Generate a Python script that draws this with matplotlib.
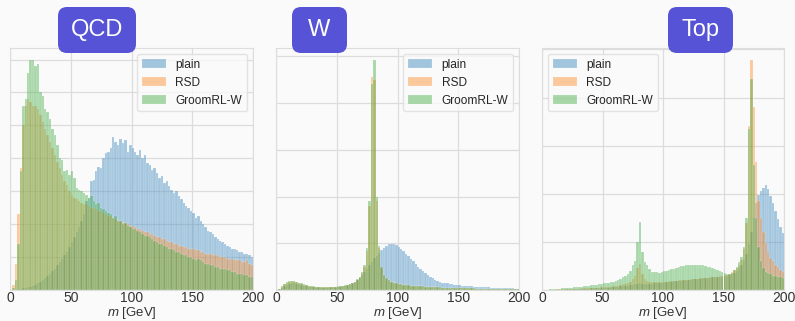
import numpy as np
import matplotlib
matplotlib.use("Agg")
import matplotlib.pyplot as plt
import seaborn as sns
from matplotlib.patches import FancyBboxPatch

# -----------------------------------------------------------------------------
# data: jet mass histograms, 2 GeV bins from 0 to 200 GeV (arbitrary units)
# -----------------------------------------------------------------------------
mass_edges = np.arange(0, 202, 2)
mass_centers = mass_edges[:-1] + 1

qcd_plain = [0, 0, 0, 0.2, 0.3, 0.5, 0.6, 0.8, 1, 1.3,
             1.6, 2, 2.5, 3, 3.6, 4.3, 5, 5.8, 6.5, 7.5,
             8.5, 9.5, 10.5, 11.5, 13, 14.5, 16, 17.5, 19, 21,
             23, 27, 28, 33, 33.5, 36, 37.5, 37, 40, 41.5,
             42, 43, 46.5, 45, 44, 46, 44.5, 45.5, 42, 44,
             43, 42, 41, 42.5, 40, 41, 38.5, 38, 36.5, 37,
             35.5, 34, 34.5, 32.5, 33, 31.5, 30.5, 29.5, 30, 28.5,
             27.5, 26.5, 25.5, 25, 24, 23.5, 22, 22.5, 21, 20,
             19, 18, 17.5, 17, 16, 15.5, 15, 14.5, 14, 13.5,
             13, 12.5, 12.5, 12, 11.5, 11.5, 11, 11, 10.5, 10]
qcd_rsd = [0, 1.5, 8, 23, 37, 50, 56, 58, 57, 56,
           56, 55, 53, 51, 49, 47, 45, 43, 41, 39,
           37, 35, 33, 32, 30, 29, 28, 27.5, 27, 26.5,
           26, 26, 25.5, 25, 25, 24.5, 24, 24, 23.5, 23,
           22.5, 22.5, 22, 21.5, 21, 21, 20.5, 20.5, 20, 19.5,
           19.5, 19, 18.5, 18.5, 18, 17.5, 17.5, 17, 17, 16.5,
           16, 16, 15.5, 15.5, 15, 14.5, 14.5, 14, 14, 13.5,
           13.5, 13, 13, 12.5, 12.5, 12.5, 12, 12, 11.5, 11.5,
           11, 11, 11, 10.5, 10.5, 10.5, 10, 10, 10, 9.5,
           9.5, 9.5, 9, 9, 9, 8.5, 8.5, 9, 8, 7.5]
qcd_groom = [0, 0.5, 3, 14, 36, 56, 58, 66, 70, 70,
             68, 68.5, 60, 59, 55, 54, 52, 49, 47, 44,
             40, 39.5, 36, 36.5, 35, 36, 34, 31, 30.5, 30,
             29.5, 29, 28, 28.5, 27, 26, 26.5, 25, 24.5, 24,
             23.5, 23, 22, 22.5, 21, 21, 20, 20.5, 19.5, 19,
             18.5, 18.5, 18, 17.5, 17, 16.5, 16.5, 16, 15.5, 15,
             14.5, 14, 14, 13.5, 13, 12.5, 12.5, 12, 11.5, 11.5,
             11, 10.5, 10.5, 10, 10, 9.5, 9, 9.5, 9, 8.5,
             8, 8, 7.5, 7.5, 7, 7, 6.5, 6.5, 6.5, 6,
             6, 5.5, 5.5, 5, 5, 5, 4.5, 4.5, 4, 4]

w_plain = [0, 0.3, 1, 1.8, 2.3, 2.6, 2.8, 2.8, 2.6, 2.4,
           2.1, 1.8, 1.6, 1.4, 1.3, 1.2, 1.1, 1.1, 1, 1,
           1, 1, 1.1, 1.1, 1.2, 1.3, 1.4, 1.6, 1.8, 2.1,
           2.5, 3, 3.6, 4.3, 5.2, 6.3, 7.5, 9, 10.5, 12,
           13.5, 14.5, 15.7, 17, 18, 19, 19.6, 19.8, 19.5, 19.2,
           18.5, 17.6, 16.6, 15.5, 14.5, 13.4, 12.2, 11, 10, 9,
           8, 7.2, 6.4, 5.6, 5, 4.4, 3.9, 3.5, 3.2, 3,
           2.8, 2.6, 2.5, 2.3, 2.2, 2, 1.9, 1.8, 1.7, 1.6,
           1.5, 1.4, 1.4, 1.3, 1.2, 1.2, 1.1, 1.1, 1, 1,
           1, 0.9, 0.9, 0.8, 0.8, 0.8, 0.7, 0.7, 0.6, 0.6]
w_rsd = [0, 0.4, 1.3, 2.4, 3.1, 3.5, 3.7, 3.7, 3.4, 3.1,
         2.7, 2.3, 2, 1.7, 1.5, 1.4, 1.3, 1.3, 1.2, 1.2,
         1.2, 1.2, 1.2, 1.3, 1.3, 1.4, 1.5, 1.7, 1.9, 2.1,
         2.4, 2.8, 3.4, 4.3, 5.4, 7.4, 10, 16.5, 36, 91,
         90, 38, 18, 9.5, 6.3, 4.9, 4.1, 3.5, 3.1, 2.8,
         2.6, 2.4, 2.2, 2.1, 2, 1.9, 1.8, 1.7, 1.6, 1.5,
         1.4, 1.4, 1.3, 1.2, 1.2, 1.1, 1.1, 1, 1, 1,
         0.9, 0.9, 0.9, 0.8, 0.8, 0.8, 0.8, 0.7, 0.7, 0.7,
         0.7, 0.6, 0.6, 0.6, 0.6, 0.6, 0.5, 0.5, 0.5, 0.5,
         0.5, 0.5, 0.4, 0.4, 0.4, 0.4, 0.4, 0.4, 0.4, 0.4]
w_groom = [0, 0.5, 1.5, 2.6, 3.3, 3.7, 3.9, 3.8, 3.5, 3.2,
           2.8, 2.4, 2, 1.8, 1.6, 1.5, 1.4, 1.3, 1.3, 1.2,
           1.2, 1.2, 1.3, 1.3, 1.4, 1.5, 1.6, 1.8, 2, 2.2,
           2.5, 2.9, 3.6, 4.6, 5.7, 7.9, 10.7, 18, 38, 88,
           98.6, 40, 19, 10, 6.5, 5, 4.2, 3.6, 3.2, 2.9,
           2.7, 2.5, 2.3, 2.1, 2, 1.9, 1.8, 1.7, 1.6, 1.5,
           1.5, 1.4, 1.3, 1.3, 1.2, 1.2, 1.1, 1.1, 1, 1,
           1, 0.9, 0.9, 0.9, 0.8, 0.8, 0.8, 0.8, 0.7, 0.7,
           0.7, 0.7, 0.6, 0.6, 0.6, 0.6, 0.6, 0.5, 0.5, 0.5,
           0.5, 0.5, 0.5, 0.4, 0.4, 0.4, 0.4, 0.4, 0.4, 0.4]

top_plain = [0, 0, 0, 0.1, 0.1, 0.1, 0.2, 0.2, 0.2, 0.3,
             0.3, 0.3, 0.4, 0.4, 0.4, 0.5, 0.5, 0.5, 0.6, 0.6,
             0.7, 0.7, 0.8, 0.8, 0.9, 0.9, 1, 1, 1.1, 1.2,
             1.3, 1.4, 1.5, 1.6, 1.7, 1.8, 2, 2.1, 2.3, 2.5,
             2.8, 2.6, 2.5, 2.5, 2.6, 2.7, 2.8, 2.9, 3, 3.1,
             3.2, 3.3, 3.4, 3.5, 3.6, 3.7, 3.8, 3.9, 4, 4.1,
             4.2, 4.3, 4.4, 4.5, 4.6, 4.7, 4.8, 4.9, 5, 5.1,
             5.2, 5.3, 5.4, 5.5, 5.6, 5.8, 6, 6.3, 6.7, 7.2,
             8, 9, 10.5, 12.5, 15, 19, 24, 30, 36, 39.5,
             41, 42.5, 43.7, 42, 39, 36, 33, 29.5, 26, 23.5]
top_rsd = [0, 0, 0.1, 0.1, 0.2, 0.2, 0.3, 0.3, 0.3, 0.4,
           0.4, 0.5, 0.5, 0.5, 0.6, 0.6, 0.7, 0.7, 0.8, 0.8,
           0.9, 0.9, 1, 1, 1.1, 1.2, 1.2, 1.3, 1.4, 1.5,
           1.6, 1.8, 2, 2.3, 2.6, 3, 3.5, 4.5, 6, 9,
           11, 6.5, 4.5, 3.8, 3.5, 3.3, 3.2, 3.2, 3.3, 3.3,
           3.4, 3.5, 3.6, 3.7, 3.8, 3.9, 4, 4, 4.1, 4.2,
           4.3, 4.4, 4.5, 4.6, 4.7, 4.8, 4.9, 5, 5.1, 5.2,
           5.3, 5.4, 5.5, 5.7, 5.9, 6.1, 6.4, 6.8, 7.4, 8.2,
           9.2, 10.5, 12.5, 17, 28, 68, 95.8, 76, 53, 37,
           30, 24, 19.5, 16, 13.5, 12, 10.5, 9.5, 8.5, 7.5]
top_groom = [0, 0.1, 0.2, 0.3, 0.4, 0.5, 0.6, 0.6, 0.7, 0.8,
             0.9, 1, 1, 1.1, 1.2, 1.3, 1.4, 1.5, 1.6, 1.8,
             2, 2.1, 2.2, 2.4, 2.6, 2.8, 3, 3.1, 3.3, 3.5,
             3.8, 4.2, 4.6, 5.2, 6, 6.8, 7.8, 10.5, 12, 20,
             28.4, 16, 11.8, 10.4, 8.6, 7.5, 7.4, 7.6, 7.2, 7.5,
             7.8, 8, 8.3, 8.6, 8.9, 9.2, 9.5, 9.8, 10, 10.2,
             10.3, 10.4, 10.5, 10.3, 10.5, 10.4, 10.2, 10, 9.7, 9.4,
             9, 8.6, 8.2, 7.8, 7.4, 7, 6.6, 6.6, 7.2, 8.2,
             9.7, 11.5, 13.9, 18, 30, 67, 87.5, 52, 30, 18,
             12, 9, 7.5, 7, 6.5, 6, 6, 5.5, 5.5, 5]

series_labels = ["plain", "RSD", "GroomRL-W"]
panel_titles = ["QCD", "W", "Top"]
mass_ticks = [0, 50, 100, 150, 200]

# -----------------------------------------------------------------------------
# style
# -----------------------------------------------------------------------------
sns.set_style("whitegrid")
plt.rcParams["font.family"] = ["Liberation Sans", "DejaVu Sans"]
plt.rcParams["mathtext.fontset"] = "custom"
plt.rcParams["mathtext.it"] = "Liberation Sans:italic"
plt.rcParams["mathtext.rm"] = "Liberation Sans"

BG = "#fafafa"
BOX = "#5653d6"
colors = ["#1f77b4", "#ff7f0e", "#2ca02c"]

fig = plt.figure(figsize=(7.95, 3.21), dpi=100, facecolor=BG)

panels = [
    (fig.add_axes([10 / 795, 31 / 321, 243 / 795, 242 / 321]), [qcd_plain, qcd_rsd, qcd_groom], 10, "upper right"),
    (fig.add_axes([276 / 795, 31 / 321, 243 / 795, 242 / 321]), [w_plain, w_rsd, w_groom], 20, "upper right"),
    (fig.add_axes([542 / 795, 31 / 321, 242 / 795, 242 / 321]), [top_plain, top_rsd, top_groom], 20, "upper left"),
]

for ax, data, ystep, loc in panels:
    ax.set_facecolor(BG)
    for vals, lab, c in zip(data, series_labels, colors):
        ax.hist(mass_centers, bins=mass_edges, weights=vals, color=c, alpha=0.4,
                label=lab, edgecolor="white", linewidth=0.3)
    ax.set_xlim(0, 200)
    ax.set_xticks(mass_ticks)
    ax.yaxis.set_major_locator(plt.MultipleLocator(ystep))
    ax.set_yticklabels([])
    ax.tick_params(axis="x", labelsize=10, pad=1, length=0, colors="#333333")
    ax.tick_params(axis="y", length=0)
    ax.grid(True, color="#dcdcdc", linewidth=0.9)
    for sp in ax.spines.values():
        sp.set_color("#dddddd")
    ax.set_xlabel("$m$ [GeV]", fontsize=9.5, color="#333333", labelpad=0)
    leg = ax.legend(loc=loc, fontsize=8.6, frameon=True, handlelength=2.0,
                    borderaxespad=0.5)
    leg.get_frame().set_edgecolor("#dddddd")
    leg.get_frame().set_facecolor("#fafafa")

# purple label boxes (positions in pixels -> inches)
boxes = [(58, 78), (292, 55), (668, 65)]
for (x0, w), title in zip(boxes, panel_titles):
    patch = FancyBboxPatch((x0 / 100, (321 - 53) / 100), w / 100, 0.46,
                           boxstyle="round,pad=0,rounding_size=0.09",
                           transform=fig.dpi_scale_trans, facecolor=BOX,
                           edgecolor="none", zorder=10)
    fig.add_artist(patch)
    fig.text((x0 + w / 2) / 795, (321 - 30) / 321, title, color="white",
             fontsize=17, ha="center", va="center", zorder=11)

fig.savefig("out.png", dpi=100, facecolor=BG)
